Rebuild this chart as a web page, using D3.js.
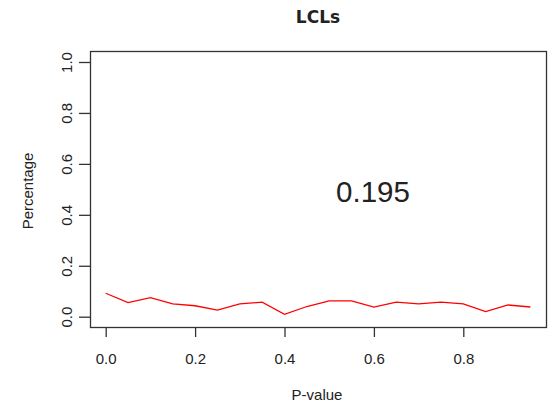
<!DOCTYPE html>
<html>
<head>
<meta charset="utf-8">
<script src="https://cdn.jsdelivr.net/npm/d3@7"></script>
<style>
  body { margin: 0; background: #fff; }
  text { font-family: "Liberation Sans", Arial, sans-serif; fill: #222; }
</style>
</head>
<body>
<svg id="chart" width="548" height="403"></svg>
<script>
// Dados
const pValues = [0, 0.05, 0.1, 0.15, 0.2, 0.25, 0.3, 0.35, 0.4, 0.45, 0.5, 0.55, 0.6, 0.65, 0.7, 0.75, 0.8, 0.85, 0.9, 0.95];
const percentages = [0.092, 0.055, 0.075, 0.05, 0.043, 0.026, 0.05, 0.057, 0.009, 0.04, 0.062, 0.062, 0.038, 0.057, 0.05, 0.057, 0.05, 0.02, 0.046, 0.038];
const xTicks = [0, 0.2, 0.4, 0.6, 0.8];
const yTicks = [0, 0.2, 0.4, 0.6, 0.8, 1.0];
const title = "LCLs";
const annotation = "0.195";

const data = pValues.map((p, i) => ({p: p, v: percentages[i]}));

const svg = d3.select("#chart");
const box = {left: 90, right: 547, top: 51, bottom: 327};

// Escalas
const x = d3.scaleLinear().domain([0, 0.2]).range([105.7, 195.1]);
const y = d3.scaleLinear().domain([0, 1]).range([316.7, 62]);

// Moldura
svg.append("rect")
    .attr("x", box.left + 0.5).attr("y", box.top + 0.5)
    .attr("width", box.right - box.left - 1).attr("height", box.bottom - box.top)
    .attr("fill", "none").attr("stroke", "#333").attr("stroke-width", 1.3);

// Eixo x
const xAxis = svg.append("g")
    .attr("transform", `translate(0,${box.bottom + 1})`)
    .call(d3.axisBottom(x).tickValues(xTicks).tickFormat(d3.format(".1f")).tickSize(9).tickPadding(16));
xAxis.select(".domain").remove();
xAxis.selectAll("line").attr("stroke", "#333").attr("stroke-width", 1.3);
xAxis.selectAll("text").attr("font-size", 15).attr("fill", "#222")
    .style("font-family", "'Liberation Sans', Arial, sans-serif");

// Eixo y
const yAxis = svg.append("g")
    .attr("transform", `translate(${box.left},0)`)
    .call(d3.axisLeft(y).tickValues(yTicks).tickFormat(d3.format(".1f")).tickSize(11));
yAxis.select(".domain").remove();
yAxis.selectAll("line").attr("stroke", "#333").attr("stroke-width", 1.3);
yAxis.selectAll("text").remove();
yAxis.selectAll(".tick").append("text")
    .attr("transform", "translate(-18,0) rotate(-90)")
    .attr("text-anchor", "middle")
    .attr("font-size", 15).attr("fill", "#222")
    .style("font-family", "'Liberation Sans', Arial, sans-serif")
    .text(d => d3.format(".1f")(d));

// Linha
const line = d3.line().x(d => x(d.p)).y(d => y(d.v));
svg.append("path")
    .datum(data)
    .attr("d", line)
    .attr("fill", "none")
    .attr("stroke", "#ff0000")
    .attr("stroke-width", 1.3);

// Títulos
svg.append("text")
    .attr("x", 318).attr("y", 23)
    .attr("text-anchor", "middle")
    .attr("font-size", 17).attr("font-weight", "bold")
    .style("font-family", "'DejaVu Sans', Verdana, sans-serif")
    .text(title);

svg.append("text")
    .attr("x", 317).attr("y", 400)
    .attr("text-anchor", "middle")
    .attr("font-size", 15)
    .text("P-value");

svg.append("text")
    .attr("transform", `translate(33,191) rotate(-90)`)
    .attr("text-anchor", "middle")
    .attr("font-size", 15)
    .text("Percentage");

svg.append("text")
    .attr("x", 373).attr("y", 201.5)
    .attr("text-anchor", "middle")
    .attr("font-size", 29.5)
    .text(annotation);
</script>
</body>
</html>
